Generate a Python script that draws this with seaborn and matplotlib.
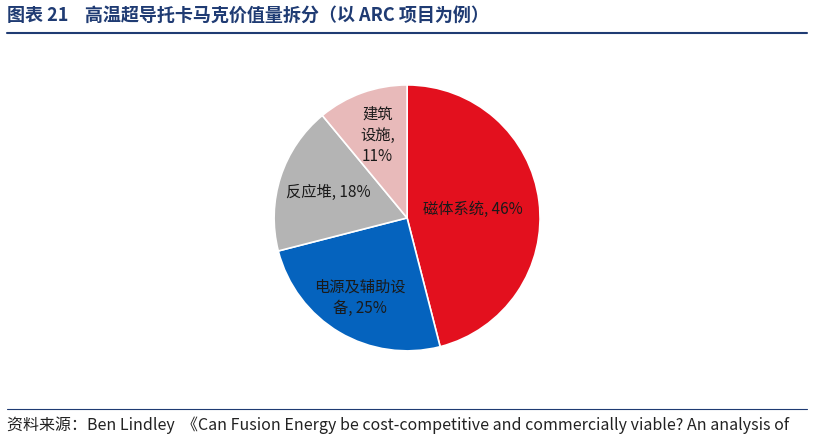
import numpy as np
import seaborn as sns
import matplotlib.pyplot as plt
from matplotlib.lines import Line2D

sns.set_theme(style="white")
plt.rcParams['font.family'] = ['Noto Sans CJK SC', 'DejaVu Sans']

categories = ['磁体系统', '电源及辅助设\n备', '反应堆', '建筑\n设施,\n']
shares = [46, 25, 18, 11]
colors = ['#E3101E', '#0563BE', '#B4B4B4', '#E8BABA']
label_r = [0.5, 0.7, 0.62, 0.66]

fig = plt.figure(figsize=(8.14, 4.41), dpi=100)
ax = fig.add_axes([0.5 - 0.1634, 0.506 - 0.3016, 0.327, 0.603])
wedges, _ = ax.pie(shares, colors=colors, startangle=90, counterclock=False,
                   wedgeprops=dict(edgecolor='white', linewidth=1.2))
ax.set_xlim(-1, 1)
ax.set_ylim(-1, 1)
ax.set_aspect('equal')

for w, cat, val, r in zip(wedges, categories, shares, label_r):
    mid = np.deg2rad((w.theta1 + w.theta2) / 2)
    sep = '' if cat.endswith('\n') else ', '
    ax.text(r * np.cos(mid), r * np.sin(mid), f'{cat}{sep}{val}%',
            ha='center', va='center', fontsize=11, color='#1a1a1a', linespacing=1.3)

navy = '#1F3B73'
fig.text(0.008, 0.965, '图表 21    高温超导托卡马克价值量拆分（以 ARC 项目为例）',
         fontsize=13, fontweight='bold', color=navy, va='center')
fig.add_artist(Line2D([0.008, 0.992], [0.925, 0.925], color=navy, lw=1.5))
fig.add_artist(Line2D([0.008, 0.992], [0.072, 0.072], color=navy, lw=0.8))
fig.text(0.008, 0.035, '资料来源：Ben Lindley  《Can Fusion Energy be cost-competitive and commercially viable? An analysis of',
         fontsize=11.5, style='italic', color='#222222', va='center')

fig.savefig('out.png', dpi=100)
